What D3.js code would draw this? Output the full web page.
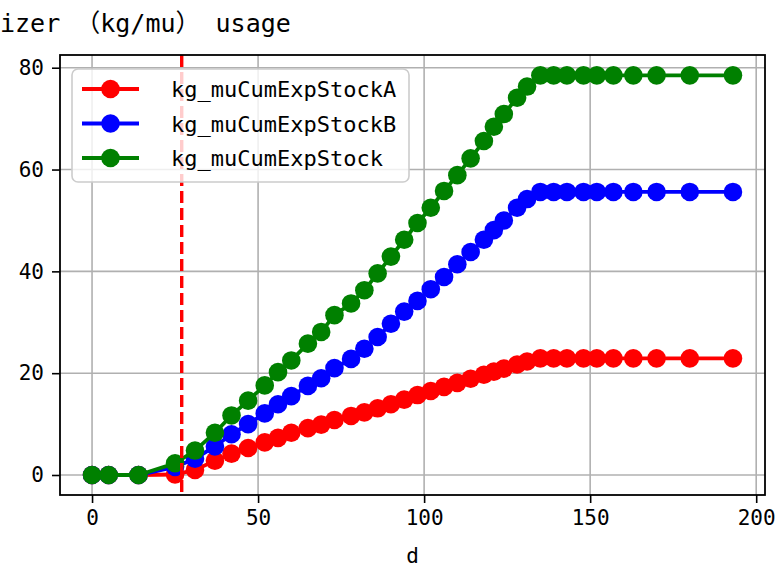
<!DOCTYPE html>
<html lang="en">
<head>
    <meta charset="UTF-8">
    <title>kg_mu usage</title>
    <script src="https://cdn.jsdelivr.net/npm/d3@7"></script>
    <style>
        body { margin: 0; background: #fff; }
        svg { display: block; }
    </style>
</head>
<body>
<svg width="778" height="568" font-family="'DejaVu Sans Mono', 'Noto Sans CJK SC', monospace"></svg>
<script>
    // days on the x axis
    var days = [0, 5, 14, 25, 31, 37, 42, 47, 52, 56, 60, 65, 69, 73, 78, 82, 86, 90, 94, 98,
        102, 106, 110, 114, 118, 121, 124, 128, 131, 135, 139, 143, 148, 152, 157, 163, 170, 180, 193];
    var stockA = [0, 0, 0, 0.1, 1.0, 2.8, 4.2, 5.3, 6.4, 7.3, 8.3, 9.2, 9.9, 10.8, 11.6, 12.3, 13.1, 13.9, 14.8, 15.7,
        16.5, 17.3, 18.1, 18.9, 19.7, 20.3, 20.9, 21.7, 22.3, 22.9, 22.9, 22.9, 22.9, 22.9, 22.9, 22.9, 22.9, 22.9, 22.9];
    var stockB = [0, 0, 0, 1.6, 3.2, 5.6, 8.0, 10.0, 12.1, 13.9, 15.5, 17.5, 19.0, 21.0, 22.8, 24.8, 27.1, 29.7, 32.1, 34.2,
        36.5, 38.9, 41.4, 43.8, 46.2, 48.1, 50.0, 52.5, 54.2, 55.6, 55.6, 55.6, 55.6, 55.6, 55.6, 55.6, 55.6, 55.6, 55.6];
    var stock = [0, 0, 0, 2.3, 4.8, 8.3, 11.7, 14.6, 17.6, 20.2, 22.5, 25.8, 28.1, 31.4, 33.7, 36.3, 39.6, 42.9, 46.2, 49.5,
        52.5, 55.8, 58.9, 62.2, 65.6, 68.4, 70.9, 74.1, 76.3, 78.5, 78.5, 78.5, 78.5, 78.5, 78.5, 78.5, 78.5, 78.5, 78.5];
    var seriesNames = ["kg_muCumExpStockA", "kg_muCumExpStockB", "kg_muCumExpStock"];
    var seriesColors = ["#ff0000", "#0000ff", "#008000"];
    var xTicks = [0, 50, 100, 150, 200];
    var yTicks = [0, 20, 40, 60, 80];
    var markerDay = 27; // red dashed vertical line
    var titleText = "izer （kg/mu） usage";
    var xLabel = "d";

    var svg = d3.select("svg");
    var plot = {left: 60, right: 765, top: 55, bottom: 495};
    var dotR = 9.3;

    var xScale = d3.scaleLinear().domain([-9.65, 202.65]).range([plot.left, plot.right]);
    var yScale = d3.scaleLinear().domain([-3.93, 82.5]).range([plot.bottom, plot.top]);

    // grid
    var grid = svg.append("g").attr("stroke", "#b0b0b0").attr("stroke-width", 1.6);
    grid.selectAll(".gx").data(xTicks).enter().append("line")
        .attr("x1", d => xScale(d)).attr("x2", d => xScale(d))
        .attr("y1", plot.top).attr("y2", plot.bottom);
    grid.selectAll(".gy").data(yTicks).enter().append("line")
        .attr("x1", plot.left).attr("x2", plot.right)
        .attr("y1", d => yScale(d)).attr("y2", d => yScale(d));

    // series
    var all = [stockA, stockB, stock];
    var line = d3.line().x((d, i) => xScale(days[i])).y(d => yScale(d));
    all.forEach(function (vals, k) {
        var g = svg.append("g");
        g.append("path").datum(vals).attr("d", line)
            .attr("fill", "none").attr("stroke", seriesColors[k]).attr("stroke-width", 3.8);
        g.selectAll("circle").data(vals).enter().append("circle")
            .attr("cx", (d, i) => xScale(days[i])).attr("cy", d => yScale(d))
            .attr("r", dotR).attr("fill", seriesColors[k]);
    });

    svg.append("line")
        .attr("x1", xScale(markerDay)).attr("x2", xScale(markerDay))
        .attr("y1", plot.top).attr("y2", plot.bottom)
        .attr("stroke", "#ff0000").attr("stroke-width", 3.4).attr("stroke-dasharray", "12,5");

    // axes
    var xAxis = d3.axisBottom(xScale).tickValues(xTicks).tickSize(8).tickPadding(7);
    var yAxis = d3.axisLeft(yScale).tickValues(yTicks).tickSize(8).tickPadding(8);
    var gx = svg.append("g").attr("transform", "translate(0," + plot.bottom + ")").call(xAxis);
    var gy = svg.append("g").attr("transform", "translate(" + plot.left + ",0)").call(yAxis);
    [gx, gy].forEach(function (a) {
        a.select(".domain").remove();
        a.selectAll(".tick line").attr("stroke", "#000").attr("stroke-width", 1.6);
        a.selectAll(".tick text").attr("fill", "#000").style("font-size", "21px")
            .attr("font-family", "'DejaVu Sans Mono', monospace");
    });

    svg.append("rect")
        .attr("x", plot.left).attr("y", plot.top)
        .attr("width", plot.right - plot.left).attr("height", plot.bottom - plot.top)
        .attr("fill", "none").attr("stroke", "#000").attr("stroke-width", 1.8);

    // legend
    var legend = svg.append("g");
    legend.append("rect")
        .attr("x", 72).attr("y", 69).attr("width", 337).attr("height", 113).attr("rx", 6)
        .attr("fill", "#fff").attr("fill-opacity", 0.8)
        .attr("stroke", "#cccccc").attr("stroke-width", 1.6);
    var rows = legend.selectAll(".row").data(seriesNames).enter().append("g")
        .attr("transform", (d, i) => "translate(0," + (89 + i * 34.5) + ")");
    rows.append("line").attr("x1", 82).attr("x2", 139)
        .attr("stroke", (d, i) => seriesColors[i]).attr("stroke-width", 3.8);
    rows.append("circle").attr("cx", 110.5).attr("r", dotR).attr("fill", (d, i) => seriesColors[i]);
    rows.append("text").attr("x", 171).attr("y", 8).text(d => d)
        .style("font-size", "22px").attr("fill", "#000");

    // titles
    svg.append("text").attr("x", 0).attr("y", 32).text(titleText)
        .style("font-size", "25px").attr("fill", "#000");
    svg.append("text").attr("x", (plot.left + plot.right) / 2).attr("y", 563)
        .attr("text-anchor", "middle").text(xLabel)
        .style("font-size", "21px").attr("fill", "#000");
</script>
</body>
</html>
